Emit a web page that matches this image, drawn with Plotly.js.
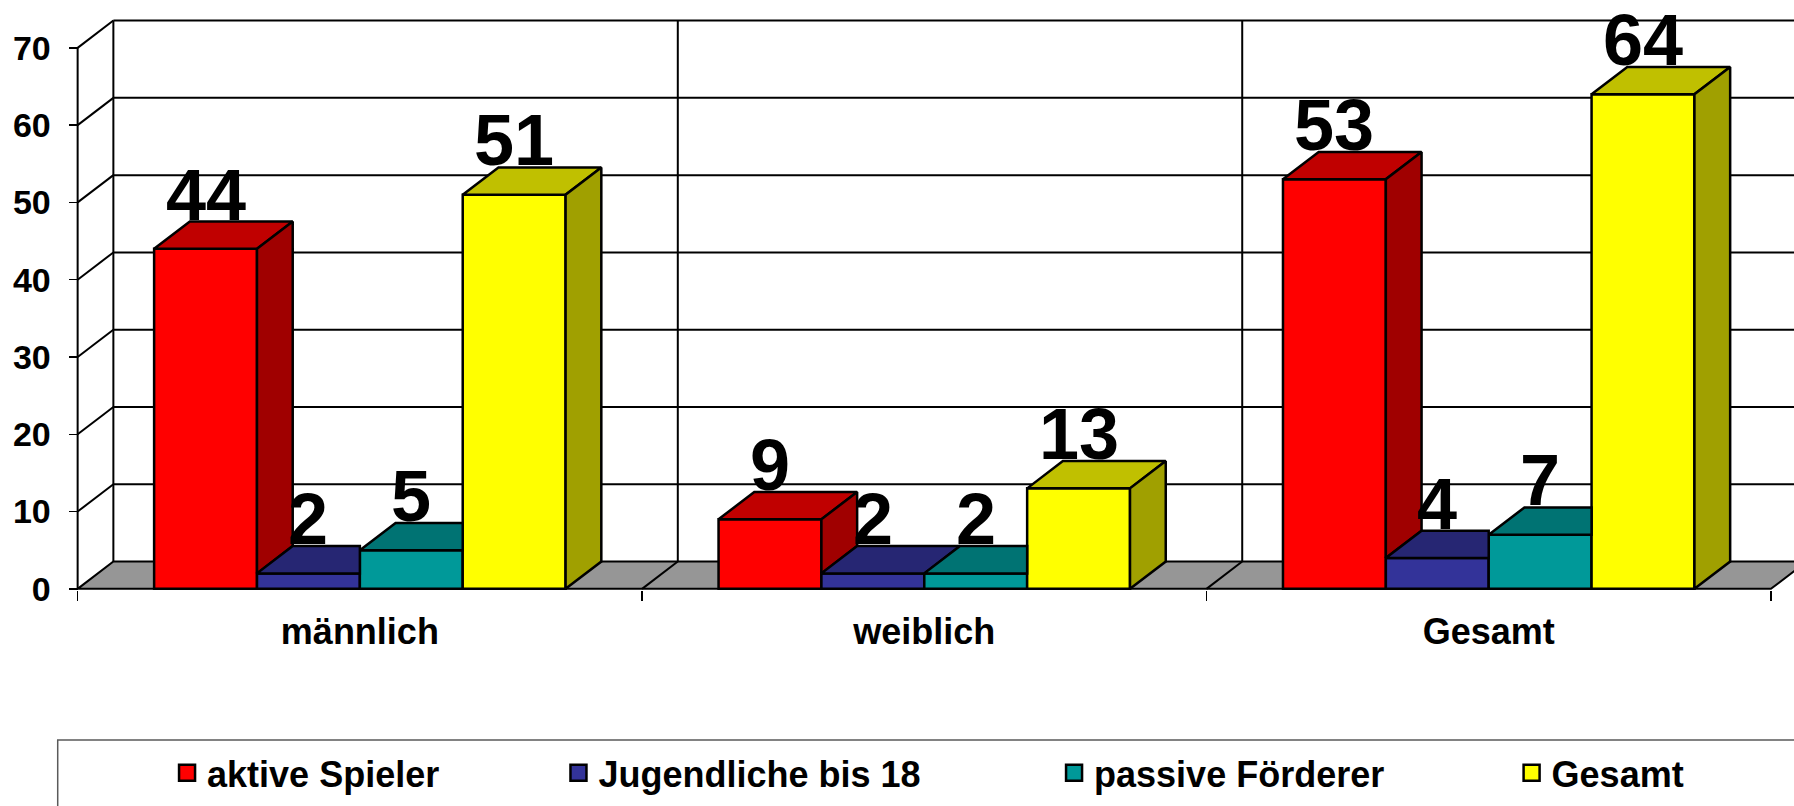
<!DOCTYPE html>
<html><head><meta charset="utf-8">
<script src="https://cdn.plot.ly/plotly-3.0.1.min.js"></script>
<style>html,body{margin:0;padding:0;background:#fff;}#chart{width:1794px;height:806px;}</style>
</head><body><div id="chart"></div>
<script>
// ---- data ----
const categories = ['männlich', 'weiblich', 'Gesamt'];
const seriesNames = ['aktive Spieler', 'Jugendliche bis 18', 'passive Förderer', 'Gesamt'];
const aktiveSpieler = [44, 9, 53];
const jugendliche = [2, 2, 4];
const passiveFoerderer = [5, 2, 7];
const gesamt = [51, 13, 64];
const yTicks = [0, 10, 20, 30, 40, 50, 60, 70];

// ---- styles ----
const seriesValues = [aktiveSpieler, jugendliche, passiveFoerderer, gesamt];
const frontColors = ['#FF0000', '#333399', '#009999', '#FFFF00'];
const topColors = ['#C00000', '#262673', '#007373', '#C0C000'];
const sideColors = ['#A00000', '#202060', '#006060', '#A0A000'];
const FONT = '"Liberation Sans", Arial, Helvetica, sans-serif';
const DX = 0.0633, DY = 3.53;      // 3-D depth offset in axis units
const GAP = 0.1355;                 // gap at each side of a category
const W = (1 - 2 * GAP) / 4;        // bar width
const YTOP = yTicks[yTicks.length - 1];
const NC = categories.length;
const EDGE = 2.5;

const traces = [];
const annotations = [];

seriesValues.forEach((vals, j) => {
  const lefts = vals.map((v, c) => c + GAP + j * W);
  traces.push({
    type: 'bar', name: seriesNames[j], x: lefts.map(l => l + W / 2), y: vals, width: W,
    marker: {color: frontColors[j], line: {color: '#000', width: EDGE}},
    showlegend: false, hoverinfo: 'skip'
  });
  const tx = [], ty = [], sx = [], sy = [];
  vals.forEach((v, c) => {
    const xl = lefts[c], xr = xl + W;
    const next = j < seriesValues.length - 1 ? seriesValues[j + 1][c] : null;
    if (next !== null && next > v) {
      tx.push(xl, xr, xr, xl + DX, xl, null);
      ty.push(v, v, v + DY, v + DY, v, null);
    } else {
      tx.push(xl, xr, xr + DX, xl + DX, xl, null);
      ty.push(v, v, v + DY, v + DY, v, null);
    }
    const base = next === null ? 0 : next;
    if (base < v) {
      sx.push(xr, xr, xr + DX, xr + DX, xr, null);
      sy.push(base, v, v + DY, base + DY, base, null);
    }
    annotations.push({
      x: xl + W / 2, y: v + DY, xref: 'x', yref: 'y', text: String(v), showarrow: false,
      yanchor: 'bottom', xanchor: 'center', yshift: -15,
      font: {family: FONT, size: 72, color: '#000', weight: 'bold'}
    });
  });
  traces.push({type: 'scatter', mode: 'lines', x: tx, y: ty, fill: 'toself', fillcolor: topColors[j],
    line: {color: '#000', width: EDGE}, showlegend: false, hoverinfo: 'skip'});
  traces.push({type: 'scatter', mode: 'lines', x: sx, y: sy, fill: 'toself', fillcolor: sideColors[j],
    line: {color: '#000', width: EDGE}, showlegend: false, hoverinfo: 'skip'});
});

// legend entries
const legendX = [0.0552, 0.2825, 0.5703, 0.836];
seriesNames.forEach((name, j) => {
  traces.push({
    type: 'scatter', mode: 'markers', x: [null], y: [null], name: name,
    legend: j === 0 ? 'legend' : 'legend' + (j + 1),
    marker: {symbol: 'square', size: 16, color: frontColors[j], line: {color: '#000', width: 2.5}},
    hoverinfo: 'skip'
  });
});

// walls, floor, gridlines
const LINE = {color: '#000', width: 2};
const shapes = [];
shapes.push({type: 'path', xref: 'x', yref: 'y', layer: 'below',
  path: `M0,0 L${NC},0 L${NC + DX},${DY} L${DX},${DY} Z`, fillcolor: '#969696', line: LINE});
yTicks.forEach(t => {
  if (t === 0) return;
  shapes.push({type: 'line', xref: 'x', yref: 'y', layer: 'below', x0: DX, x1: NC + 0.5, y0: t + DY, y1: t + DY, line: LINE});
  shapes.push({type: 'line', xref: 'x', yref: 'y', layer: 'below', x0: 0, x1: DX, y0: t, y1: t + DY, line: LINE});
});
for (let c = 0; c <= NC; c++) {
  shapes.push({type: 'line', xref: 'x', yref: 'y', layer: 'below', x0: c + DX, x1: c + DX, y0: DY, y1: YTOP + DY, line: LINE});
  if (c > 0 && c < NC) shapes.push({type: 'line', xref: 'x', yref: 'y', layer: 'below', x0: c, x1: c + DX, y0: 0, y1: DY, line: LINE});
}
shapes.push({type: 'line', xref: 'x', yref: 'y', layer: 'below', x0: 0, x1: 0, y0: 0, y1: YTOP, line: LINE});
// legend frame
shapes.push({type: 'rect', xref: 'paper', yref: 'paper', layer: 'below', x0: -0.0083, x1: 1.05, y0: -0.2542, y1: -0.6,
  line: {color: '#5a5a5a', width: 1.5}, fillcolor: 'rgba(0,0,0,0)'});

const legendStyle = (x) => ({x: x, y: -0.31, xanchor: 'left', yanchor: 'middle', orientation: 'h',
  bgcolor: 'rgba(0,0,0,0)', borderwidth: 0, font: {family: FONT, size: 36, color: '#000', weight: 'bold'}});

const layout = {
  width: 1794, height: 806,
  margin: {l: 72, r: 0, t: 0, b: 216, autoexpand: false},
  paper_bgcolor: '#fff', plot_bgcolor: '#fff',
  barmode: 'overlay', showlegend: true,
  xaxis: {
    range: [-0.01, 3.0409], tickmode: 'array', tickvals: categories.map((_, c) => c + 0.5), ticktext: categories,
    ticks: '', showgrid: false, zeroline: false, showline: false, automargin: false,
    tickfont: {family: FONT, size: 36, color: '#000', weight: 'bold'}, ticklabelstandoff: 17,
    minor: {tickmode: 'array', tickvals: categories.map((_, c) => c).concat([NC]), ticks: 'outside', ticklen: 10, tickwidth: 1.5, tickcolor: '#000', showgrid: false}
  },
  yaxis: {
    range: [-0.15, 76.19], tickmode: 'array', tickvals: yTicks, ticks: 'outside', ticklen: 9, tickwidth: 1.5, tickcolor: '#000',
    showgrid: false, zeroline: false, showline: false, anchor: 'free', position: 0.00325, automargin: false,
    tickfont: {family: FONT, size: 34, color: '#000', weight: 'bold'}, ticklabelstandoff: 11
  },
  legend: legendStyle(legendX[0]),
  legend2: legendStyle(legendX[1]),
  legend3: legendStyle(legendX[2]),
  legend4: legendStyle(legendX[3]),
  shapes: shapes,
  annotations: annotations
};

Plotly.newPlot('chart', traces, layout, {displayModeBar: false, staticPlot: true});
</script>
</body></html>
